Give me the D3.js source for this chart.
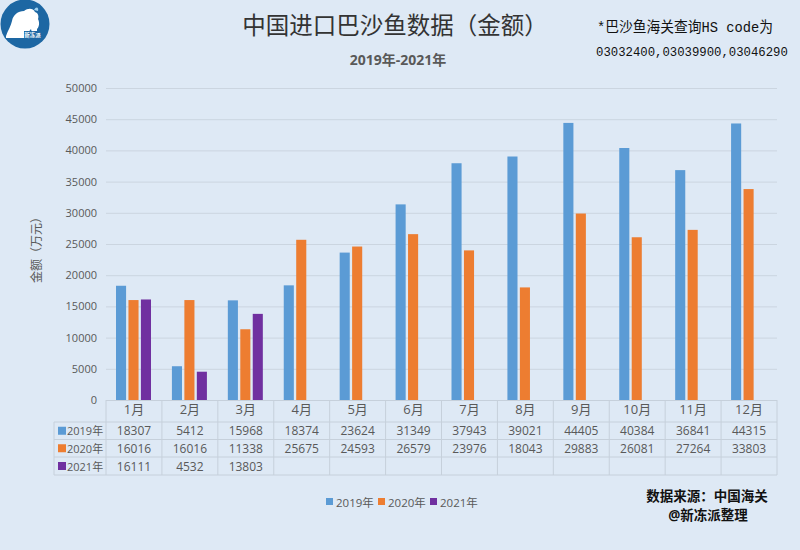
<!DOCTYPE html>
<html><head><meta charset="utf-8">
<script src="https://cdn.jsdelivr.net/npm/d3@7/dist/d3.min.js"></script>
<style>
html,body{margin:0;padding:0;background:#dee9f5;}
svg{display:block;}
text{font-family:"Open Sans","Noto Sans CJK SC",sans-serif;}
</style></head>
<body>
<svg id="chart" width="800" height="550"></svg>
<script>
const months = ["1月","2月","3月","4月","5月","6月","7月","8月","9月","10月","11月","12月"];
const seriesNames = ["2019年","2020年","2021年"];
const values2019 = [18307,5412,15968,18374,23624,31349,37943,39021,44405,40384,36841,44315];
const values2020 = [16016,16016,11338,25675,24593,26579,23976,18043,29883,26081,27264,33803];
const values2021 = [16111,4532,13803,null,null,null,null,null,null,null,null,null];
const yTicks = [0,5000,10000,15000,20000,25000,30000,35000,40000,45000,50000];
const colors = ["#5b9bd5","#ed7d31","#7030a0"];

(function(){
const seriesValues = [values2019, values2020, values2021];
const svg = d3.select("#chart");
svg.append("rect").attr("width",800).attr("height",550).attr("fill","#dee9f5");

const pLeft = 106, pRight = 777, pTop = 88, pBottom = 400;
const x = d3.scaleBand().domain(months).range([pLeft,pRight]).padding(0);
const xs = d3.scaleBand().domain(seriesNames).range([10,45]).paddingInner(0.19);
const y = d3.scaleLinear().domain([0,50000]).range([pBottom,pTop]);

// gridlines
svg.append("g").selectAll("line").data(yTicks.slice(1)).join("line")
  .attr("x1",pLeft).attr("x2",pRight).attr("y1",d=>y(d)+0.5).attr("y2",d=>y(d)+0.5)
  .attr("stroke","#cbd5e0").attr("stroke-width",1);

// y axis labels
const yAxis = d3.axisLeft(y).tickValues(yTicks).tickSize(0).tickPadding(9).tickFormat(d3.format("d"));
const gy = svg.append("g").attr("transform",`translate(${pLeft},0)`).call(yAxis);
gy.select(".domain").remove();
gy.selectAll("text").attr("fill","#595959").style("font-size","11px").style("font-family","'Open Sans',sans-serif");

// y title
svg.append("text").attr("transform","translate(38,247) rotate(-90)")
  .attr("text-anchor","middle").attr("dominant-baseline","middle")
  .attr("fill","#595959").style("font-size","12px").text("金额（万元）");

// bars
seriesNames.forEach((s,i)=>{
  const data = months.map((m,j)=>({m, v: seriesValues[i][j]})).filter(d=>d.v!=null);
  svg.append("g").selectAll("rect").data(data).join("rect")
    .attr("x",d=>x(d.m)+xs(s)).attr("width",xs.bandwidth())
    .attr("y",d=>y(d.v)).attr("height",d=>pBottom-y(d.v))
    .attr("fill",colors[i]);
});

// x axis line
svg.append("line").attr("x1",pLeft).attr("x2",pRight).attr("y1",pBottom+0.5).attr("y2",pBottom+0.5)
  .attr("stroke","#c6d0db");

// data table
const rowY = [pBottom, 422, 439.5, 457, 475];
const tbl = svg.append("g");
const lineColor = "#c6d0db";
[1,2,3,4].forEach(k=>{
  tbl.append("line").attr("x1",54).attr("x2",pRight).attr("y1",rowY[k]).attr("y2",rowY[k]).attr("stroke",lineColor);
});
months.forEach(m=>{
  tbl.append("line").attr("x1",x(m)).attr("x2",x(m)).attr("y1",pBottom).attr("y2",rowY[4]).attr("stroke",lineColor);
});
tbl.append("line").attr("x1",pRight).attr("x2",pRight).attr("y1",pBottom).attr("y2",rowY[4]).attr("stroke",lineColor);
tbl.append("line").attr("x1",54).attr("x2",54).attr("y1",rowY[1]).attr("y2",rowY[4]).attr("stroke",lineColor);

// month labels
const xAxis = d3.axisBottom(x).tickSize(0).tickPadding(5);
const gx = svg.append("g").attr("transform",`translate(0,${pBottom})`).call(xAxis);
gx.select(".domain").remove();
gx.selectAll("text").attr("fill","#595959").style("font-size","13px");

// row labels & values
seriesNames.forEach((s,i)=>{
  const cy = (rowY[i+1]+rowY[i+2])/2;
  tbl.append("rect").attr("x",58).attr("y",cy-4).attr("width",8).attr("height",8).attr("fill",colors[i]);
  tbl.append("text").attr("x",67).attr("y",cy).attr("dominant-baseline","central")
    .attr("fill","#595959").style("font-size","11px").text(s);
  tbl.append("g").selectAll("text").data(months.map((m,j)=>({m,v:seriesValues[i][j]})).filter(d=>d.v!=null))
    .join("text").attr("x",d=>x(d.m)+x.bandwidth()/2).attr("y",cy).attr("text-anchor","middle")
    .attr("dominant-baseline","central").attr("fill","#595959").style("font-size","12px")
    .text(d=>d.v);
});

// title
svg.append("text").attr("x",395).attr("y",34).attr("text-anchor","middle")
  .attr("fill","#333").style("font-size","23.5px").style("font-family","'Noto Sans CJK SC',sans-serif")
  .text("中国进口巴沙鱼数据（金额）");
svg.append("text").attr("x",398).attr("y",65).attr("text-anchor","middle")
  .attr("fill","#595959").style("font-size","14px").style("font-weight","bold")
  .text("2019年-2021年");

// note
svg.append("text").attr("x",597).attr("y",32).attr("fill","#111")
  .style("font-size","14.5px").style("font-family","'Liberation Mono','Noto Sans CJK SC',monospace")
  .attr("textLength",176).attr("lengthAdjust","spacingAndGlyphs")
  .text("*巴沙鱼海关查询HS code为");
svg.append("text").attr("x",596).attr("y",56).attr("fill","#111")
  .style("font-size","12.3px").style("font-family","'Liberation Mono',monospace")
  .text("03032400,03039900,03046290");

// legend
const legX = [326,378,430];
seriesNames.forEach((s,i)=>{
  svg.append("rect").attr("x",legX[i]).attr("y",498).attr("width",7).attr("height",7).attr("fill",colors[i]);
  svg.append("text").attr("x",legX[i]+10).attr("y",502).attr("dominant-baseline","central")
    .attr("fill","#595959").style("font-size","11.5px").text(s);
});

// source
svg.append("text").attr("x",707).attr("y",496).attr("text-anchor","middle").attr("dominant-baseline","central")
  .attr("fill","#111").style("font-size","13.5px").style("font-weight","bold").text("数据来源：中国海关");
svg.append("text").attr("x",708).attr("y",515).attr("text-anchor","middle").attr("dominant-baseline","central")
  .attr("fill","#111").style("font-size","13.5px").style("font-weight","bold").text("@新冻派整理");

// logo
const logo = svg.append("g").attr("transform","translate(25,24)");
logo.append("circle").attr("r",24.5).attr("fill","#1d67a3");
// bear silhouette
logo.append("path")
  .attr("d","M-19,12 C-17,6 -14,2 -13,-3 C-12,-9 -7,-13 -1,-13 C3,-16 8,-16 10,-12 C13,-11 14,-8 13,-5 C15,-1 14,3 12,5 L12,9 L7,9 L6,5 C3,8 2,11 2,14 L-19,14 Z")
  .attr("fill","#ffffff");
logo.append("path").attr("d","M9,-14 C11,-18 14,-17 13,-13 Z").attr("fill","#9fd0ef");
logo.append("rect").attr("x",-1).attr("y",7).attr("width",17).attr("height",7).attr("fill","#1d67a3");
logo.append("text").attr("x",7.5).attr("y",10.5).attr("text-anchor","middle").attr("dominant-baseline","central")
  .attr("fill","#fff").style("font-size","5.5px").style("font-weight","bold").text("新冻派");
})();
</script>
</body></html>
